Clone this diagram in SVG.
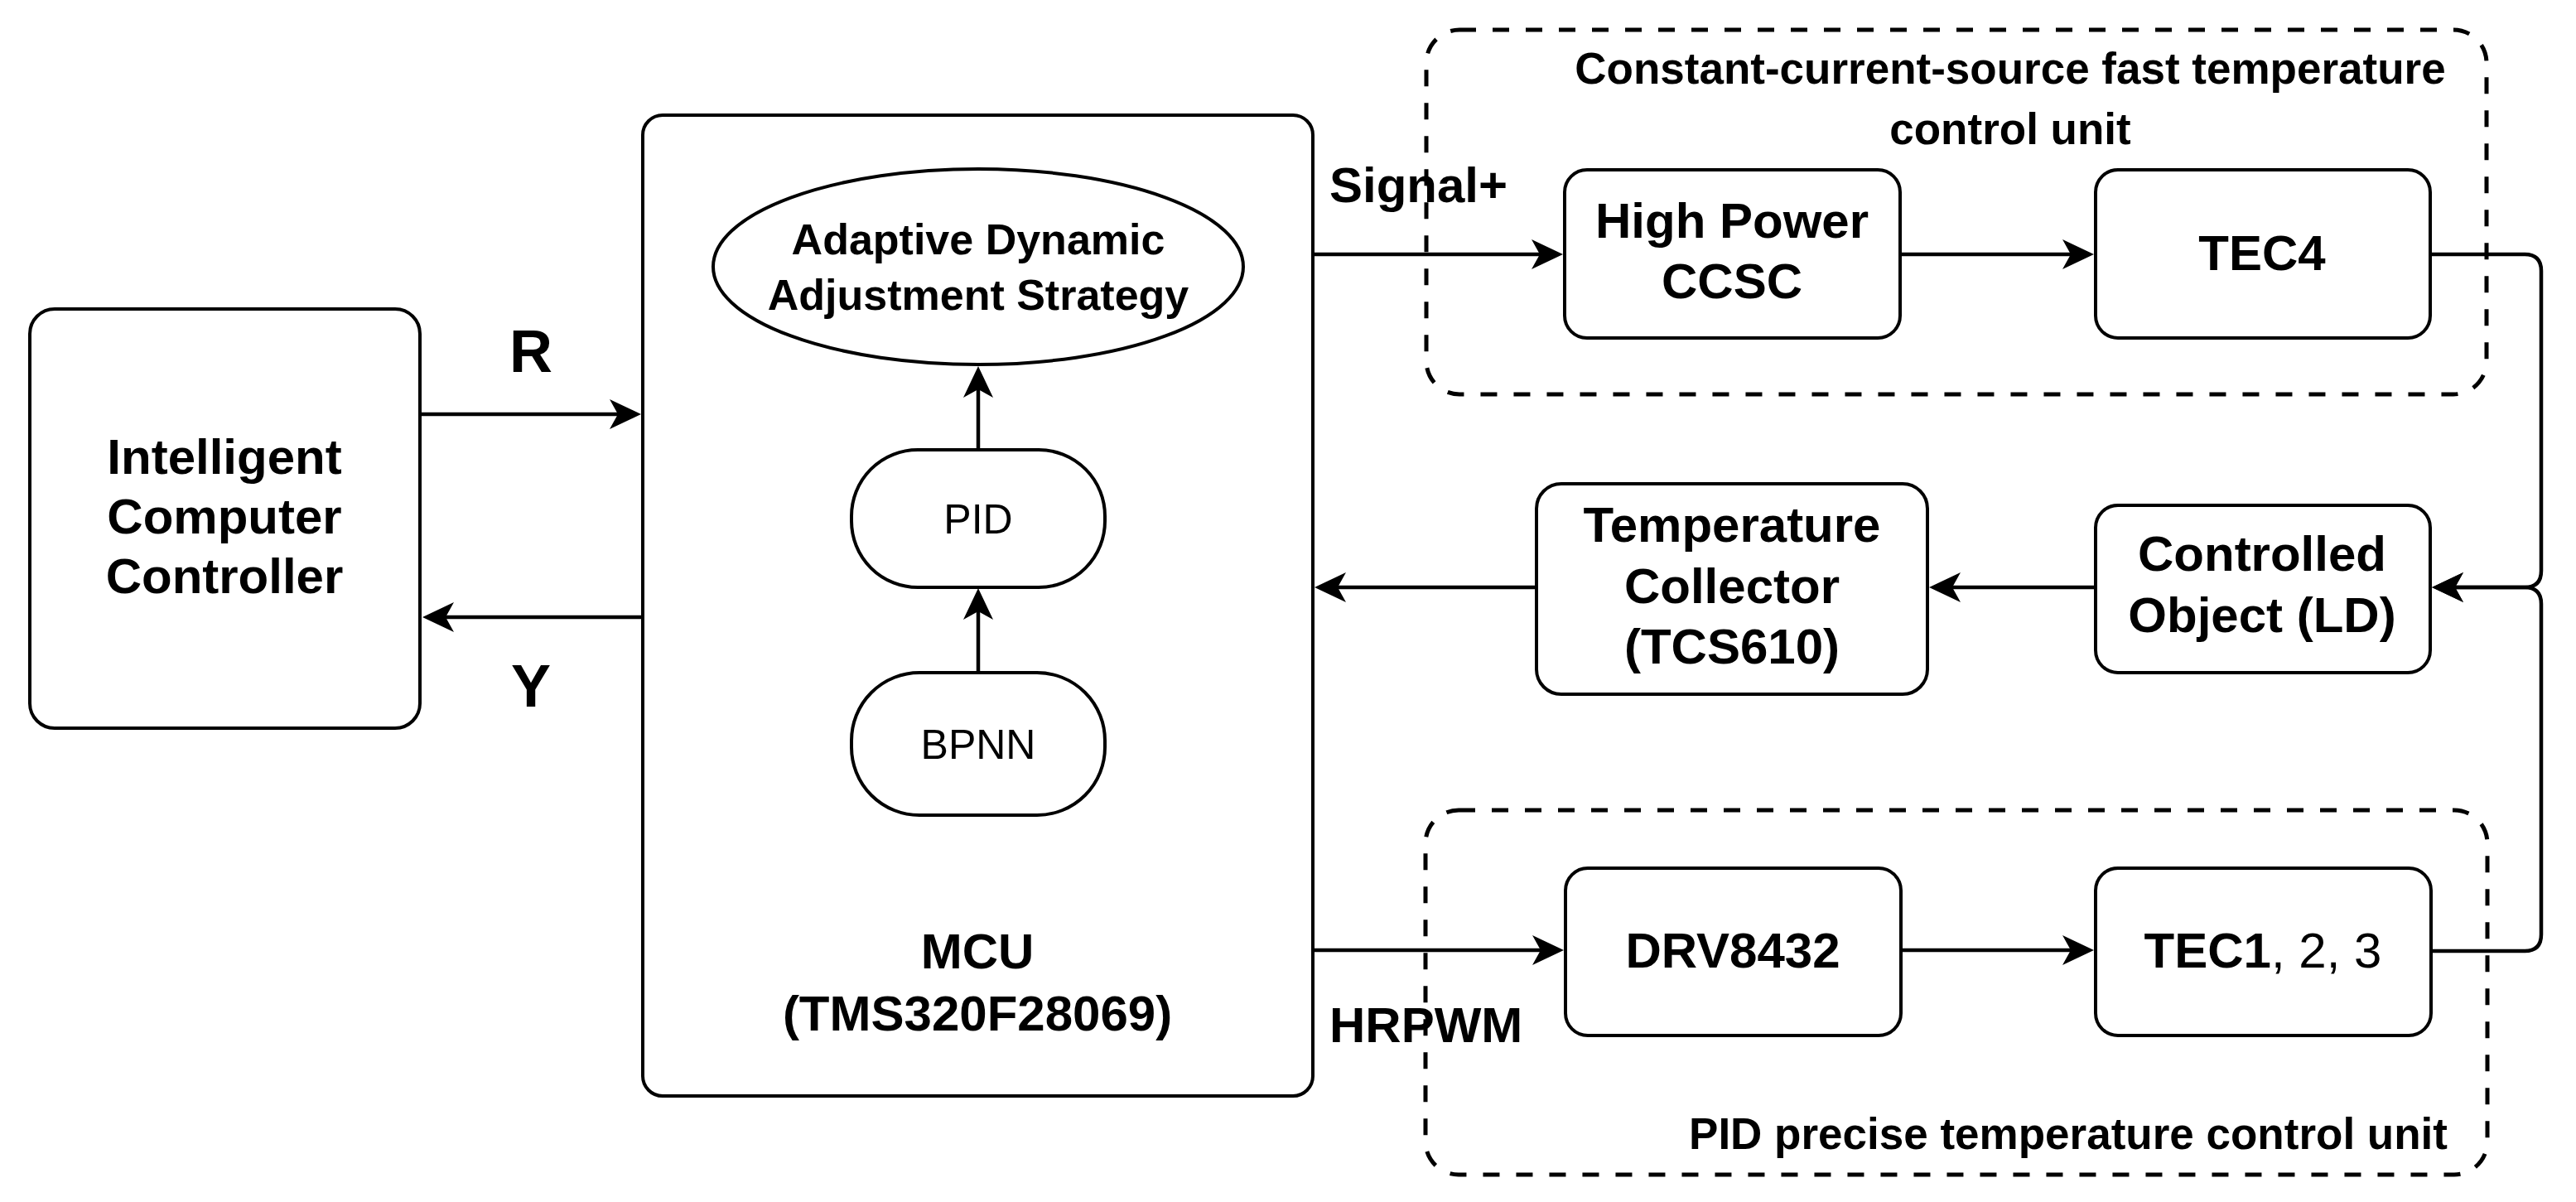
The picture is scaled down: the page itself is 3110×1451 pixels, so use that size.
<svg xmlns="http://www.w3.org/2000/svg" width="3110" height="1451" viewBox="0 0 3110 1451">
<defs>
<style>
.box{fill:#fff;stroke:#000;stroke-width:4}
.grp{fill:none;stroke:#000;stroke-width:5;stroke-dasharray:20 20}
.ln{fill:none;stroke:#000;stroke-width:4.5}
text{font-family:"Liberation Sans",Arial,sans-serif;fill:#000}
.b60{font-size:60px;font-weight:bold;text-anchor:middle}
.lbl{font-size:60px;font-weight:bold}
.big{font-size:72px;font-weight:bold;text-anchor:middle}
.ell{font-size:52px;font-weight:bold;text-anchor:middle}
.pill{font-size:50px;text-anchor:middle}
.ttl{font-size:53px;font-weight:bold;text-anchor:middle}
</style>
<marker id="arr" markerUnits="userSpaceOnUse" viewBox="-30 -20 42 40" markerWidth="42" markerHeight="40" refX="0" refY="0" orient="auto">
<path d="M10,0 L-28,-18 L-18,0 L-28,18 Z" fill="#000"/>
</marker>
</defs>
<rect width="3110" height="1451" fill="#fff"/>

<g id="group-ccs">
<rect class="grp" x="1722" y="36" width="1280" height="440" rx="40" ry="40"/>
<text class="ttl" x="2427" y="101">Constant-current-source fast temperature</text>
<text class="ttl" x="2427" y="174">control unit</text>
</g>
<g id="group-pid">
<rect class="grp" x="1721" y="978" width="1282" height="440" rx="40" ry="40"/>
<text class="ttl" x="2497" y="1387">PID precise temperature control unit</text>
</g>

<g id="node-intelligent">
<rect class="box" x="36" y="373" width="471" height="506" rx="30" ry="30"/>
<text class="b60" x="271" y="572">Intelligent</text>
<text class="b60" x="271" y="644">Computer</text>
<text class="b60" x="271" y="716">Controller</text>
</g>

<g id="node-mcu">
<rect class="box" x="776" y="139" width="809" height="1184" rx="24" ry="24"/>
<text class="b60" x="1180" y="1169">MCU</text>
<text class="b60" x="1180" y="1244">(TMS320F28069)</text>
</g>

<g id="node-strategy">
<ellipse class="box" cx="1181" cy="322" rx="320" ry="118"/>
<text class="ell" x="1181" y="307">Adaptive Dynamic</text>
<text class="ell" x="1181" y="374">Adjustment Strategy</text>
</g>

<g id="node-pid">
<rect class="box" x="1028" y="543" width="306" height="166" rx="80" ry="80"/>
<text class="pill" x="1181" y="644">PID</text>
</g>

<g id="node-bpnn">
<rect class="box" x="1028" y="812" width="306" height="172" rx="82" ry="82"/>
<text class="pill" x="1181" y="916">BPNN</text>
</g>

<g id="node-hpccsc">
<rect class="box" x="1889" y="205" width="405" height="203" rx="27" ry="27"/>
<text class="b60" x="2091" y="287">High Power</text>
<text class="b60" x="2091" y="360">CCSC</text>
</g>

<g id="node-tec4">
<rect class="box" x="2530" y="205" width="404" height="203" rx="27" ry="27"/>
<text class="b60" x="2731" y="326">TEC4</text>
</g>

<g id="node-collector">
<rect class="box" x="1855" y="584" width="472" height="254" rx="30" ry="30"/>
<text class="b60" x="2091" y="654">Temperature</text>
<text class="b60" x="2091" y="728">Collector</text>
<text class="b60" x="2091" y="801">(TCS610)</text>
</g>

<g id="node-ld">
<rect class="box" x="2530" y="610" width="404" height="202" rx="27" ry="27"/>
<text class="b60" x="2731" y="689">Controlled</text>
<text class="b60" x="2731" y="763">Object (LD)</text>
</g>

<g id="node-drv">
<rect class="box" x="1890" y="1048" width="405" height="202" rx="27" ry="27"/>
<text class="b60" x="2092" y="1168">DRV8432</text>
</g>

<g id="node-tec123">
<rect class="box" x="2530" y="1048" width="405" height="202" rx="27" ry="27"/>
<text x="2732" y="1168" style="font-size:60px;text-anchor:middle"><tspan font-weight="bold">TEC1</tspan>, 2, 3</text>
</g>

<g id="connectors">
<line class="ln" x1="507" y1="500" x2="764" y2="500" marker-end="url(#arr)"/>
<line class="ln" x1="776" y1="745" x2="520" y2="745" marker-end="url(#arr)"/>
<line class="ln" x1="1181" y1="543" x2="1181" y2="452" marker-end="url(#arr)"/>
<line class="ln" x1="1181" y1="812" x2="1181" y2="720" marker-end="url(#arr)"/>
<line class="ln" x1="1585" y1="307" x2="1877" y2="307" marker-end="url(#arr)"/>
<line class="ln" x1="2294" y1="307" x2="2518" y2="307" marker-end="url(#arr)"/>
<path class="ln" d="M2934,307 H3048 Q3068,307 3068,327 V689 Q3068,709 3048,709 H2946" marker-end="url(#arr)"/>
<path class="ln" d="M2935,1148 H3048 Q3068,1148 3068,1128 V729 Q3068,709 3048,709 H2946" marker-end="url(#arr)"/>
<line class="ln" x1="2530" y1="709" x2="2339" y2="709" marker-end="url(#arr)"/>
<line class="ln" x1="1855" y1="709" x2="1597" y2="709" marker-end="url(#arr)"/>
<line class="ln" x1="1585" y1="1147" x2="1878" y2="1147" marker-end="url(#arr)"/>
<line class="ln" x1="2295" y1="1147" x2="2518" y2="1147" marker-end="url(#arr)"/>
<text class="big" x="641" y="449">R</text>
<text class="big" x="641" y="853">Y</text>
<text class="lbl" x="1605" y="244">Signal+</text>
<text class="lbl" x="1605" y="1258">HRPWM</text>
</g>
</svg>
